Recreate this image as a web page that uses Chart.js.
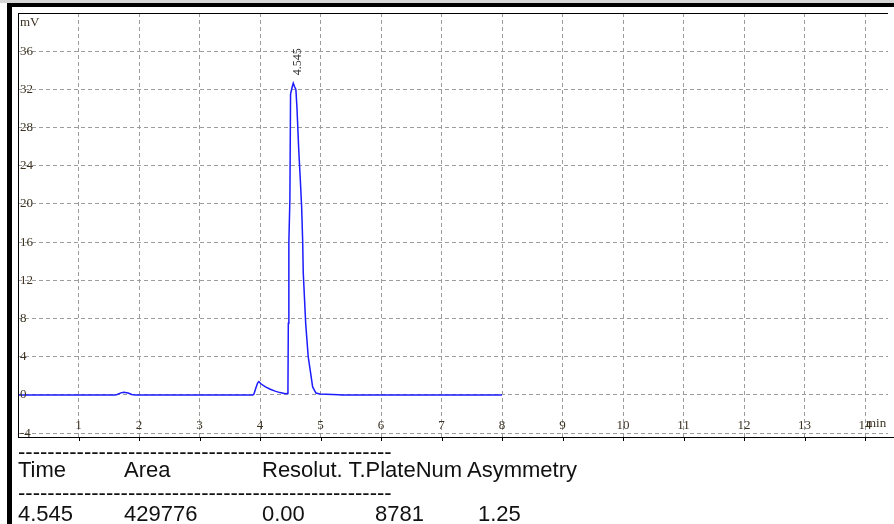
<!DOCTYPE html>
<html>
<head>
<meta charset="utf-8">
<script src="https://cdn.jsdelivr.net/npm/chart.js@4.4.1/dist/chart.umd.min.js"></script>
<style>
html,body{margin:0;padding:0;background:#fff;}
#wrap{position:relative;width:894px;height:524px;overflow:hidden;}
#chart{position:absolute;left:0;top:0;}
.t{position:absolute;font-family:"Liberation Sans",Arial,sans-serif;font-size:22px;line-height:22px;color:#111;white-space:pre;}
</style>
</head>
<body>
<div id="wrap">
  <canvas id="chart" width="894" height="524"></canvas>
  <div id="table"></div>
</div>
<script>
/* DATA */
const timeMin=[0,1.60,1.64,1.70,1.75,1.82,1.88,1.94,3.88,3.90,3.93,3.96,3.98,4.02,4.09,4.17,4.25,4.33,4.42,4.45,
  4.462,4.468,4.477,4.494,4.505,4.53,4.55,4.57,4.593,4.61,4.64,4.665,4.688,4.705,4.715,4.755,4.797,4.837,4.87,4.925,4.99,5.30,5.35,8.0];
const signalMv=[0,0,0.05,0.22,0.28,0.2,0.06,0,0,0.1,0.7,1.25,1.4,1.15,0.85,0.6,0.4,0.25,0.12,0.15,
  0.6,7.5,16,20.5,31.5,32.2,32.65,32.3,32.0,30.2,25.7,22.7,19.7,16.2,12.8,7.5,4.0,2.3,0.84,0.2,0.1,0.03,0,0];
const xTicks=[1,2,3,4,5,6,7,8,9,10,11,12,13,14];
const yTicks=[-4,0,4,8,12,16,20,24,28,32,36];
const peakTimes=[4.545];
const tableHead=["Time","Area","Resolut. T.PlateNum Asymmetry"];
const tableRow=["4.545","429776","0.00","8781","1.25"];

/* TABLE */
const headX=[18,124,262], rowX=[18,124,262,375,478];
const tbl=document.getElementById("table");
function txt(s,x,y){const d=document.createElement("div");d.className="t";d.textContent=s;d.style.left=x+"px";d.style.top=y+"px";tbl.appendChild(d);}
const dashes="-".repeat(51);
txt(dashes,18,441);
tableHead.forEach((s,i)=>txt(s,headX[i],459));
txt(dashes,18,482);
tableRow.forEach((s,i)=>txt(s,rowX[i],503));

/* FRAME + LABELS */
const frame={
  id:"frame",
  beforeDraw(c){
    const ctx=c.ctx;ctx.save();
    ctx.fillStyle="#d6d6d6";ctx.fillRect(0,0,894,3);
    ctx.fillStyle="#000";ctx.fillRect(7,3,887,4);ctx.fillRect(7,3,5,521);
    ctx.restore();
  },
  afterDraw(c){
    const ctx=c.ctx,a=c.chartArea,xs=c.scales.x,ys=c.scales.y;
    ctx.save();
    ctx.strokeStyle="#000";ctx.lineWidth=1;
    ctx.beginPath();
    ctx.moveTo(a.left+0.5,a.top);ctx.lineTo(a.left+0.5,a.bottom);
    ctx.moveTo(a.left,a.top+0.5);ctx.lineTo(a.right,a.top+0.5);
    ctx.moveTo(a.left,a.bottom+0.5);ctx.lineTo(894,a.bottom+0.5);
    xTicks.forEach(v=>{const p=Math.round(xs.getPixelForValue(v))+0.5;ctx.moveTo(p,a.bottom);ctx.lineTo(p,a.bottom+4);});
    ctx.stroke();
    ctx.fillStyle="#3b3222";
    ctx.font="13px 'Liberation Serif',serif";
    ctx.textAlign="left";ctx.textBaseline="middle";
    yTicks.forEach(v=>ctx.fillText(String(v),a.left+2,ys.getPixelForValue(v)));
    ctx.fillText("mV",a.left+2,a.top+10);
    ctx.textAlign="center";ctx.textBaseline="alphabetic";
    const lb=ys.getPixelForValue(-4)-4;
    xTicks.forEach(v=>ctx.fillText(String(v),xs.getPixelForValue(v),lb));
    ctx.textAlign="left";
    ctx.fillText("min",xs.getPixelForValue(14)+1,lb-2);
    // peak label
    const top=ys.getPixelForValue(Math.max(...signalMv));
    ctx.font="12px 'Liberation Serif',serif";
    peakTimes.forEach(t=>{
      ctx.save();
      ctx.translate(xs.getPixelForValue(t)+5,top-8);
      ctx.rotate(-Math.PI/2);
      ctx.textAlign="left";ctx.textBaseline="middle";
      ctx.fillStyle="#333";
      ctx.fillText(t.toFixed(3),0,0);
      ctx.restore();
    });
    ctx.restore();
  }
};

new Chart(document.getElementById("chart"),{
  type:"line",
  data:{datasets:[{
    data:timeMin.map((t,i)=>({x:t,y:signalMv[i]})),
    borderColor:"#1c1cff",borderWidth:1.5,pointRadius:0,tension:0,fill:false
  }]},
  options:{
    responsive:false,animation:false,
    layout:{padding:{left:18,top:13,right:6,bottom:87}},
    plugins:{legend:{display:false},tooltip:{enabled:false}},
    scales:{
      x:{type:"linear",min:0,max:14.38,
        afterBuildTicks:s=>{s.ticks=xTicks.map(v=>({value:v}));},
        grid:{color:"#9c9c9c",drawTicks:false},border:{display:false,dash:[4,3]},ticks:{display:false}},
      y:{type:"linear",min:-4.4,max:40,
        afterBuildTicks:s=>{s.ticks=yTicks.map(v=>({value:v}));},
        grid:{color:"#9c9c9c",drawTicks:false},border:{display:false,dash:[4,3]},ticks:{display:false}}
    }
  },
  plugins:[frame]
});
</script>
</body>
</html>
